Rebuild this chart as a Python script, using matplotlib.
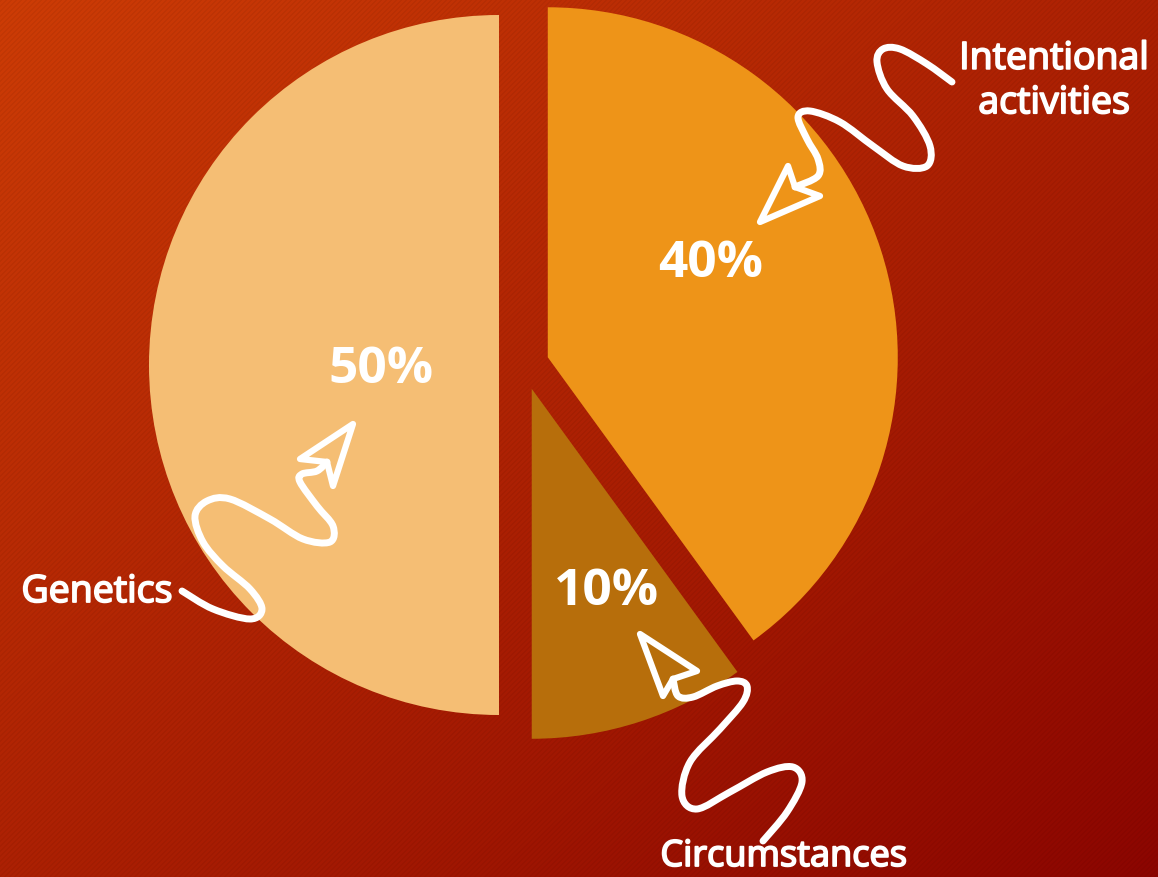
import numpy as np
import matplotlib
matplotlib.use("Agg")
import matplotlib.pyplot as plt
import matplotlib.patheffects as pe
from matplotlib.path import Path
from matplotlib.patches import PathPatch, Polygon

# data
labels = ["Intentional\nactivities", "Circumstances", "Genetics"]
shares = [40, 10, 50]
colors = ["#EE9418", "#B76E0B", "#F5BE74"]

W, H = 1158, 878


def p(x, y):
    # pixel coords (y down) -> data coords
    return (x, H - y)


fig = plt.figure(figsize=(W / 100, H / 100), dpi=100)
ax = fig.add_axes([0, 0, 1, 1])

# background: diagonal gradient with faint stripes
yy, xx = np.mgrid[0:H, 0:W]
t = (xx / W + yy / H) / 2
c0 = np.array([205, 60, 6]) / 255
c1 = np.array([140, 5, 0]) / 255
bg = c0 + (c1 - c0) * t[..., None]
stripes = (np.sin(2 * np.pi * (xx + yy) / 5.0) > 0.3).astype(float)
bg = bg * (1 - 0.05 * stripes[..., None])
ax.imshow(bg, extent=(0, W, 0, H), origin="upper", zorder=0)

# pie
center = p(524, 366)
wedges, _, autotexts = ax.pie(
    shares, colors=colors, startangle=90, counterclock=False,
    center=center, radius=350, explode=[25, 25, 25],
    autopct="%d%%", pctdistance=0.5,
    textprops=dict(color="white", fontsize=37, fontweight="bold",
                   family="Open Sans"),
    wedgeprops=dict(linewidth=0, zorder=2))

pct_pos = [(711, 264), (606, 592), (381, 370)]
for txt, pos in zip(autotexts, pct_pos):
    txt.set_position(p(*pos))
    txt.set_ha("center")
    txt.set_va("center")
    txt.set_zorder(5)

# category labels
lab_pos = [(1054, 82), (784, 858), (97, 593)]
lab_size = [27, 26, 27]
for lab, pos, fs in zip(labels, lab_pos, lab_size):
    ax.text(*p(*pos), lab, color="white", fontsize=fs,
            family="Open Sans", ha="center", va="center", linespacing=1.22,
            zorder=5,
            path_effects=[pe.withStroke(linewidth=1.3, foreground="white")])


def smooth_path(pts):
    pts = np.array([p(*q) for q in pts], float)
    verts = [pts[0]]
    codes = [Path.MOVETO]
    n = len(pts)
    for i in range(n - 1):
        p0 = pts[i - 1] if i > 0 else pts[i]
        p1 = pts[i]
        p2 = pts[i + 1]
        p3 = pts[i + 2] if i + 2 < n else pts[i + 1]
        verts += [p1 + (p2 - p0) / 6, p2 - (p3 - p1) / 6, p2]
        codes += [Path.CURVE4] * 3
    return Path(verts, codes)


squiggles = [
    # genetics
    [(182, 592), (213, 610), (250, 620), (262, 610), (250, 590), (223, 567),
     (203, 543), (195, 517), (207, 502), (230, 500), (270, 520), (303, 540),
     (330, 543), (333, 527), (317, 507), (300, 483), (302, 475), (317, 472),
     (327, 463)],
    # intentional activities
    [(952, 83), (927, 65), (900, 50), (883, 50), (877, 63), (887, 90),
     (913, 117), (930, 147), (927, 167), (903, 167), (873, 147), (840, 123),
     (810, 112), (798, 118), (807, 140), (818, 160), (818, 177), (795, 188)],
    # circumstances
    [(763, 842), (787, 813), (802, 783), (793, 768), (767, 773), (730, 793),
     (697, 810), (682, 797), (690, 763), (720, 730), (743, 703), (747, 687),
     (737, 682), (717, 687), (693, 698), (678, 697), (673, 680)],
]
heads = [
    [(353, 425), (300, 460), (327, 463), (333, 487)],
    [(760, 223), (788, 167), (795, 188), (820, 197)],
    [(640, 635), (663, 697), (673, 680), (697, 672)],
]

for sq, hd in zip(squiggles, heads):
    ax.add_patch(PathPatch(smooth_path(sq), fill=False, ec="white", lw=5,
                           capstyle="round", joinstyle="round", zorder=4))
    ax.add_patch(Polygon([p(*q) for q in hd], closed=True, fill=False,
                         ec="white", lw=4.5, joinstyle="round", zorder=4))

ax.set_xlim(0, W)
ax.set_ylim(0, H)
ax.set_aspect("auto")
ax.axis("off")

fig.savefig("out.png", dpi=100)
